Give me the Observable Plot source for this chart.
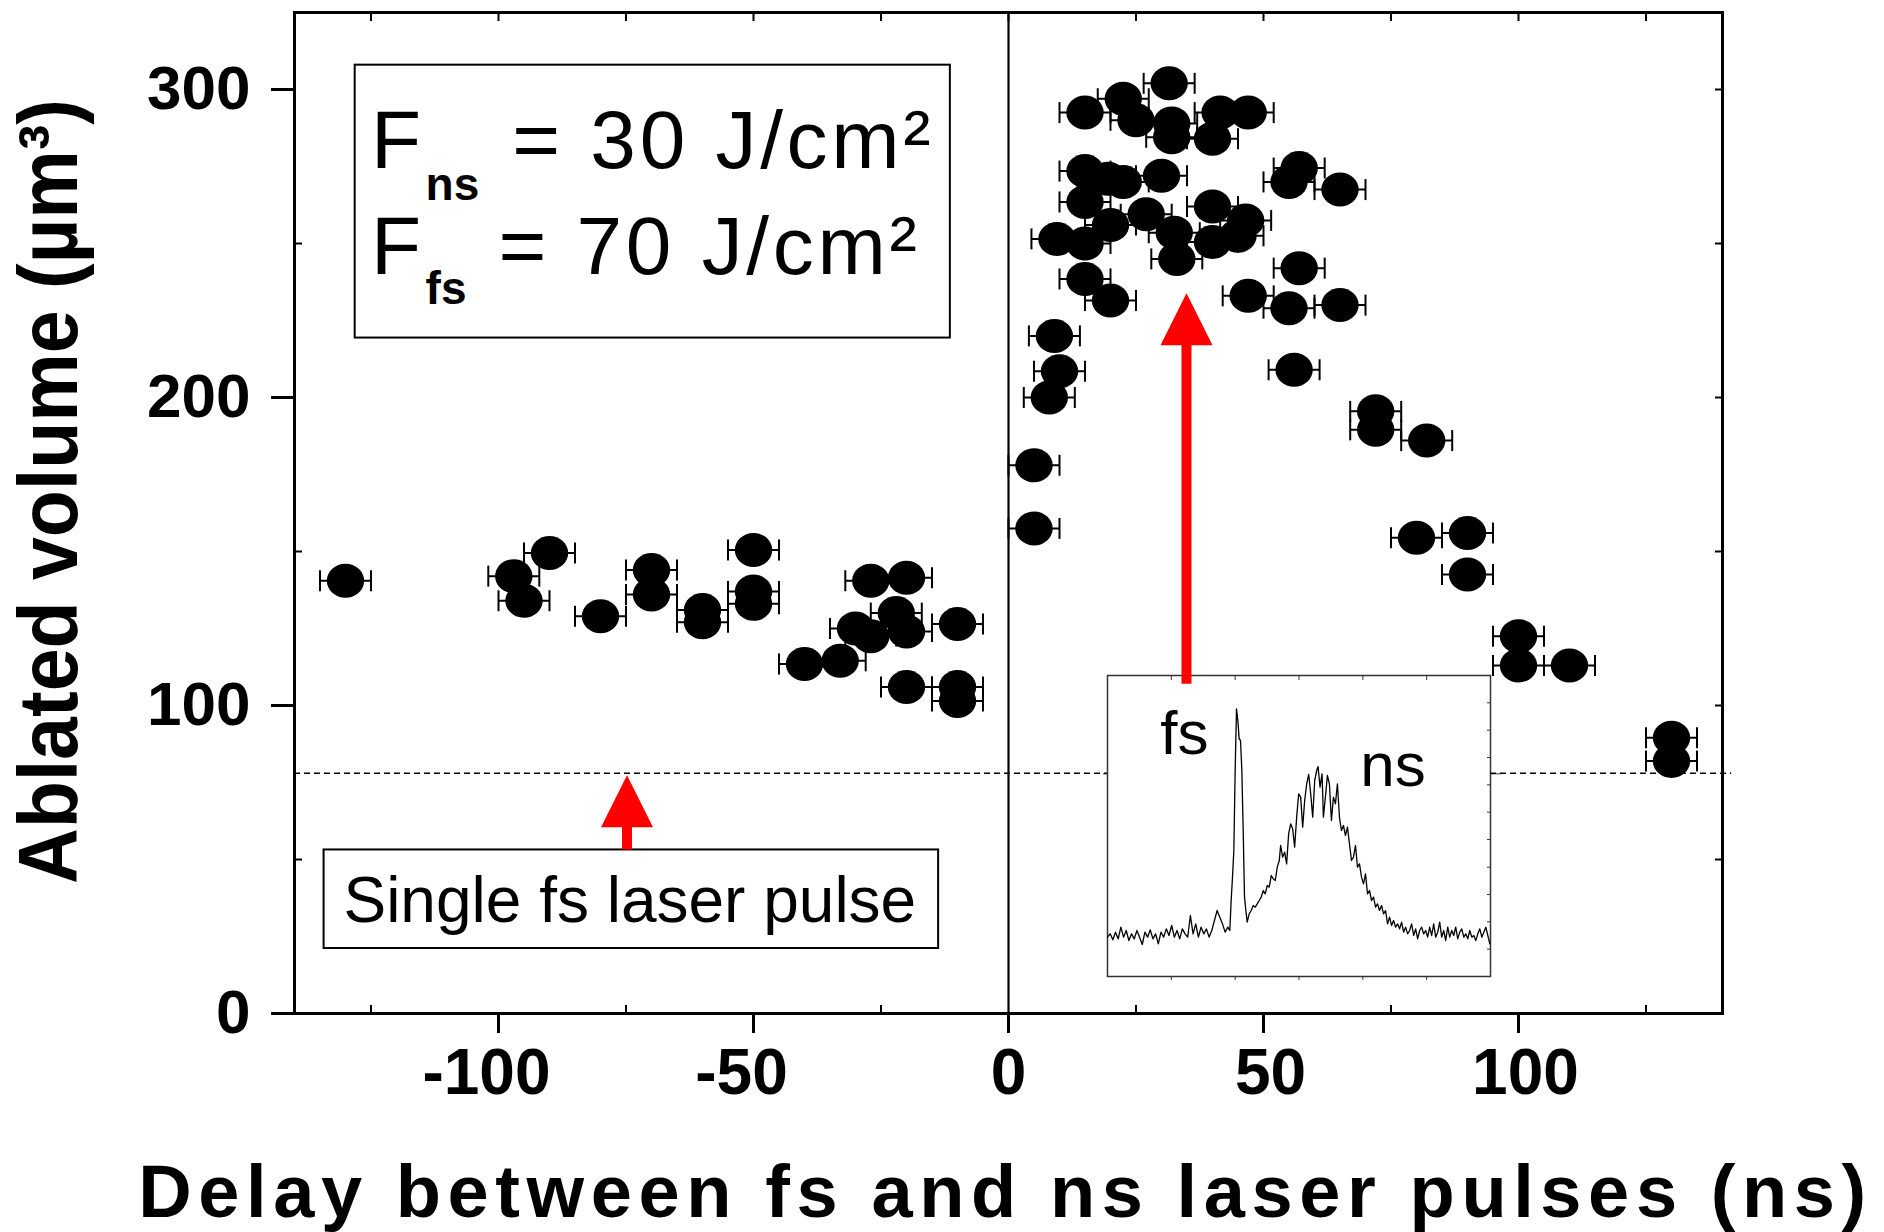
<!DOCTYPE html>
<html><head><meta charset="utf-8">
<script src="https://cdn.jsdelivr.net/npm/d3@7"></script>
<script src="https://cdn.jsdelivr.net/npm/@observablehq/plot@0.6"></script>
<style>
html,body{margin:0;padding:0;background:#fff;}
#wrap{position:relative;width:1884px;height:1232px;overflow:hidden;font-family:"Liberation Sans",Arial,sans-serif;}
#inset{position:absolute;left:1095px;top:663px;z-index:0;}
#main{position:absolute;left:0;top:0;z-index:1;}
</style></head><body><div id="wrap"><div id="inset"></div><div id="main"></div></div>
<script>
// ---- data: delay (ns), ablated volume (µm³) ----
const measured = [
  [-130,140.5],[-97,142],[-90,149.5],[-95,134],[-80,129],[-70,144],[-70,136],[-60,131],[-60,127],
  [-50,150.5],[-50,137],[-50,133],[-40,113.5],[-33,114.5],[-27,140.5],[-20,141.5],[-30,125],[-27,122.5],
  [-22,130],[-20,124],[-10,126.5],[-20,106],[-10,106],[-10,101.5],
  [5,157.5],[5,178],[8,200],[10,208.5],[9,220],
  [9.5,251.5],[15,250],[15,238.5],[20,231.5],[15,263.5],[15,273.5],[19.5,271],[22.5,270],[30,272],
  [15,292.5],[22.5,297],[25,290],[31.5,302],[32,289],[32,284.5],[40,284],[41.5,292.5],[47,292.5],
  [40,262],[20,256],[27,259.5],[32.5,253.5],[33,245],[40,250.5],[45,252.5],[46.5,257.5],
  [55,270],[57,274.5],[65,267.5],[47,233],[55,229],[65,230],[57,242],[56,209],
  [72,195.5],[72,189.5],[82,186],[80,154.5],[90,156],[90,142.5],[100,122.5],[100,113],[110,113],
  [130,89.5],[130,82]
];
const xErr = 5;                 // horizontal error (ns)
const singlePulseLevel = 78;    // single fs pulse volume (µm³)
const xTicks = [-100,-50,0,50,100];
const xTicksNeg = [-100,-50];
const xTicksZero = [0];
const xTicksPos = [50,100];
const yTicks = [0,100,200,300];
const xMinor = [-125,-75,-25,25,75,125];
const xTopTicks = [-125,-100,-75,-50,-25,0,25,50,75,100,125];
const yMinor = [50,150,250];
const yRightTicks = [50,100,150,200,250,300];
const xTitle = "Delay between fs and ns laser pulses (ns)";
const yTitle = "Ablated volume (µm³)";

// annotations (data units)
const dashedSegments = [{y: singlePulseLevel, x1: -140, x2: 19.4}, {y: singlePulseLevel, x1: 94.5, x2: 141.8}];
const boxes = [
  {x1: -128.1, x2: -11.4, y1: 219.3, y2: 307.9},
  {x1: -134.2, x2: -13.7, y1: 21.1, y2: 53.1}
];
const legendF = [{x: -125, y: 274.6, text: "F"}, {x: -125, y: 240.1, text: "F"}];
const legendEq = [{x: -97.3, y: 274.6, text: "= 30 J/cm²"}, {x: -100, y: 240.1, text: "= 70 J/cm²"}];
const legendSub = [{x: -114.3, y: 264.2, text: "ns"}, {x: -114.3, y: 230.3, text: "fs"}];
const singleLabel = [{x: -130.4, y: 29.8, text: "Single fs laser pulse"}];
const arrows = [{x: -74.8, base: 60.5, tail: 53.1}, {x: 34.9, base: 217, tail: 106.9}];

// ---- inset: oscilloscope trace (time ns, signal %) ----
const pulseTrace = [
  [0,11.8],[0.4,12.8],[0.8,11.0],[1.2,13.3],[1.6,11.3],[2.0,14.8],[2.4,11.8],[2.8,13.8],[3.2,10.8],[3.6,12.8],
  [4.0,11.3],[4.4,13.8],[4.8,11.8],[5.2,9.6],[5.6,13.3],[6.0,11.8],[6.4,14.0],[6.8,11.3],[7.2,12.8],[7.6,9.8],
  [8.0,13.3],[8.4,11.8],[8.8,14.3],[9.2,12.3],[9.6,15.3],[10.0,11.8],[10.4,13.8],[10.8,11.3],[11.2,14.3],[11.6,12.8],
  [12.0,11.8],[12.4,18.3],[12.8,12.8],[13.2,15.8],[13.6,11.8],[14.0,14.8],[14.4,12.8],[14.8,14.3],[15.2,11.8],[15.6,13.8],
  [16.0,16.8],[16.4,19.8],[16.8,17.8],[17.2,15.8],[17.6,13.3],[18.0,14.8],[18.3,13.8],[18.5,22.8],[18.7,29.8],[18.9,37.8],
  [19.1,61.8],[19.3,80.3],[19.5,76.8],[19.7,71.3],[19.9,70.8],[20.1,61.8],[20.3,43.8],[20.5,23.8],[20.7,19.8],[20.9,16.3],
  [21.2,18.8],[21.5,19.8],[21.8,21.3],[22.1,20.8],[22.4,21.8],[22.7,22.8],[23.0,23.8],[23.3,25.8],[23.6,24.8],[23.9,27.3],
  [24.2,26.8],[24.5,30.3],[24.8,29.3],[25.1,28.8],[25.4,32.8],[25.7,34.8],[25.9,39.3],[26.2,35.8],[26.5,37.3],[26.8,33.8],
  [27.1,42.8],[27.4,45.8],[27.7,44.3],[28.0,38.8],[28.3,47.8],[28.6,54.8],[28.9,53.8],[29.2,44.8],[29.5,52.8],[29.8,57.8],
  [30.1,60.6],[30.4,54.8],[30.7,47.8],[31.0,58.8],[31.3,61.8],[31.5,63.0],[31.8,56.8],[32.1,60.8],[32.3,47.8],[32.6,53.8],
  [32.9,60.3],[33.2,57.8],[33.5,46.8],[33.8,53.8],[34.1,51.8],[34.4,57.8],[34.7,47.8],[35.0,43.8],[35.3,45.3],[35.6,42.3],
  [35.9,44.8],[36.2,39.8],[36.5,34.8],[36.8,35.8],[37.1,39.3],[37.4,32.8],[37.7,33.8],[38.0,29.8],[38.3,27.8],[38.6,30.8],
  [38.9,24.8],[39.2,25.8],[39.5,22.8],[39.8,23.8],[40.1,20.8],[40.4,21.8],[40.7,19.8],[41.0,21.3],[41.3,18.8],[41.6,19.8],
  [41.9,15.8],[42.2,17.8],[42.5,15.3],[42.8,16.8],[43.1,14.8],[43.4,15.8],[43.7,14.3],[44.0,16.3],[44.3,13.3],[44.6,14.8],
  [44.9,12.8],[45.2,13.8],[45.5,15.8],[45.8,12.3],[46.1,14.3],[46.4,11.3],[46.7,13.8],[47.0,14.8],[47.3,12.8],[47.6,13.8],
  [47.9,11.8],[48.2,14.8],[48.5,12.3],[48.8,15.8],[49.1,11.8],[49.4,13.3],[49.7,16.3],[50.0,11.8],[50.3,13.8],[50.6,10.8],
  [50.9,14.8],[51.2,11.8],[51.5,13.8],[51.8,12.3],[52.1,14.8],[52.4,11.3],[52.7,13.3],[53.0,14.3],[53.3,11.8],[53.6,12.8],
  [53.9,11.3],[54.2,13.8],[54.5,11.8],[54.8,12.3],[55.1,10.8],[55.4,12.8],[55.7,14.3],[56.0,11.8],[56.3,13.3],[56.6,14.8],
  [56.9,12.3],[57.2,9.8]
];
const insetXTicks = [9.55,19.1,28.65,38.2,47.75];
const insetYTicks = [8.2,16.4,24.6,32.8,41.1,49.3,57.5,65.7,73.9,82.1];
const insetMajorY = [60.8];
const insetLabels = [{t: 7.9, v: 66.8, text: "fs"}, {t: 37.8, v: 57.3, text: "ns"}];

// ---- symbols ----
const ellipse = {draw(ctx) {
  const rx = 18.7, ry = 17, k = 0.5523;
  ctx.moveTo(rx, 0);
  ctx.bezierCurveTo(rx, k*ry, k*rx, ry, 0, ry);
  ctx.bezierCurveTo(-k*rx, ry, -rx, k*ry, -rx, 0);
  ctx.bezierCurveTo(-rx, -k*ry, -k*rx, -ry, 0, -ry);
  ctx.bezierCurveTo(k*rx, -ry, rx, -k*ry, rx, 0);
  ctx.closePath();
}};
const cap = {draw(ctx) { ctx.moveTo(0, -10.5); ctx.lineTo(0, 10.5); }};
const head = {draw(ctx) { ctx.moveTo(0, -52); ctx.lineTo(26, 0); ctx.lineTo(-26, 0); ctx.closePath(); }};

const pts = measured.map(([x, y]) => ({x, y}));
const FONT = "'Liberation Sans', Arial, Helvetica, sans-serif";
const blank = () => "";
const num = d => String(d);
const xLabelOpts = {anchor: "bottom", tickSize: 0, tickPadding: 35, fontSize: 64, fontWeight: "bold", tickFormat: num, label: null};

const main = Plot.plot({
  width: 1884, height: 1232,
  marginTop: 12, marginRight: 162, marginBottom: 219, marginLeft: 294,
  x: {domain: [-140, 140], label: null},
  y: {domain: [0, 325], label: null},
  style: {background: "transparent", fontFamily: FONT, color: "black"},
  marks: [
    Plot.frame({strokeWidth: 3}),
    Plot.axisX({anchor: "bottom", ticks: xTicks, tickSize: 20, strokeWidth: 3, tickFormat: blank, label: null}),
    Plot.axisX({...xLabelOpts, ticks: xTicksNeg, dx: -12}),
    Plot.axisX({...xLabelOpts, ticks: xTicksZero}),
    Plot.axisX({...xLabelOpts, ticks: xTicksPos, dx: 7}),
    Plot.axisX({anchor: "bottom", ticks: xMinor, tickSize: 8, dy: -8, strokeWidth: 2, tickFormat: blank, label: null}),
    Plot.axisX({anchor: "top", ticks: xTopTicks, tickSize: 8, dy: 8, strokeWidth: 2, tickFormat: blank, label: null}),
    Plot.axisY({anchor: "left", ticks: yTicks, tickSize: 23, tickPadding: 21, strokeWidth: 3,
      fontSize: 62, fontWeight: "bold", tickFormat: num, label: null}),
    Plot.axisY({anchor: "left", ticks: yMinor, tickSize: 8, dx: 8, strokeWidth: 2, tickFormat: blank, label: null}),
    Plot.axisY({anchor: "right", ticks: yRightTicks, tickSize: 8, dx: -8, strokeWidth: 2, tickFormat: blank, label: null}),
    Plot.ruleX([0], {strokeWidth: 2.2}),
    Plot.ruleY(dashedSegments, {y: "y", x1: "x1", x2: "x2", strokeDasharray: "6,4", strokeWidth: 1.6}),
    Plot.rect(boxes, {x1: "x1", x2: "x2", y1: "y1", y2: "y2", fill: "none", stroke: "black", strokeWidth: 2}),
    Plot.text(legendF, {x: "x", y: "y", text: "text", fontSize: 82, textAnchor: "start", lineAnchor: "bottom"}),
    Plot.text(legendEq, {x: "x", y: "y", text: "text", fontSize: 82, textAnchor: "start", lineAnchor: "bottom"}),
    Plot.text(legendSub, {x: "x", y: "y", text: "text", fontSize: 46, fontWeight: "bold", textAnchor: "start", lineAnchor: "bottom"}),
    Plot.text(singleLabel, {x: "x", y: "y", text: "text", fontSize: 64, textAnchor: "start", lineAnchor: "bottom"}),
    Plot.ruleX(arrows, {x: "x", y1: "tail", y2: d => d.base + 1, stroke: "#ff0000", strokeWidth: 10}),
    Plot.dot(arrows, {x: "x", y: "base", symbol: head, fill: "#ff0000", stroke: "none"}),
    Plot.ruleY(pts, {y: "y", x1: d => d.x - xErr, x2: d => d.x + xErr, stroke: "black", strokeWidth: 2}),
    Plot.dot(pts, {x: d => d.x - xErr, y: "y", symbol: cap, stroke: "black", strokeWidth: 2, fill: "none"}),
    Plot.dot(pts, {x: d => d.x + xErr, y: "y", symbol: cap, stroke: "black", strokeWidth: 2, fill: "none"}),
    Plot.dot(pts, {x: "x", y: "y", symbol: ellipse, fill: "black", stroke: "none"}),
    Plot.text([yTitle], {text: d => d, frameAnchor: "left", dx: -218, dy: -21.5, rotate: -90,
      fontSize: 83, fontWeight: "bold", lineAnchor: "bottom", textAnchor: "middle"}),
    Plot.text([xTitle], {text: d => d, frameAnchor: "bottom", dy: 203, dx: -3,
      fontSize: 74, fontWeight: "bold", lineAnchor: "bottom", textAnchor: "middle"})
  ]
});
const svgMain = d3.select(main);
svgMain.selectAll("text").filter(function() { return this.textContent === xTitle; })
  .style("letter-spacing", "6.6px");
svgMain.selectAll("text").filter(function() { return this.textContent === yTitle; })
  .attr("textLength", 785).attr("lengthAdjust", "spacingAndGlyphs");
svgMain.selectAll("text").filter(function() { return legendEq.some(d => d.text === this.textContent); })
  .style("letter-spacing", "3.7px");
document.getElementById("main").appendChild(main);

const inset = Plot.plot({
  width: 407, height: 325, margin: 12,
  x: {domain: [0, 57.3], label: null},
  y: {domain: [0, 90.3], label: null},
  style: {background: "transparent", overflow: "visible", fontFamily: FONT, color: "black"},
  marks: [
    Plot.frame({fill: "white", stroke: "#333", strokeWidth: 1.5}),
    Plot.axisX({anchor: "top", ticks: insetXTicks, tickSize: 4, dy: 4, stroke: "#333", tickFormat: blank, label: null}),
    Plot.axisX({anchor: "bottom", ticks: insetXTicks, tickSize: 4, stroke: "#333", tickFormat: blank, label: null}),
    Plot.axisY({anchor: "right", ticks: insetYTicks, tickSize: 4, dx: -4, stroke: "#333", tickFormat: blank, label: null}),
    Plot.axisY({anchor: "right", ticks: insetMajorY, tickSize: 10, stroke: "#333", tickFormat: blank, label: null}),
    Plot.axisY({anchor: "left", ticks: insetMajorY, tickSize: 4, stroke: "#333", tickFormat: blank, label: null}),
    Plot.line(pulseTrace, {x: d => d[0], y: d => d[1], stroke: "black", strokeWidth: 1.3}),
    Plot.text(insetLabels, {x: "t", y: "v", text: "text", fontSize: 62, textAnchor: "start", lineAnchor: "bottom"})
  ]
});
document.getElementById("inset").appendChild(inset);
</script></body></html>
